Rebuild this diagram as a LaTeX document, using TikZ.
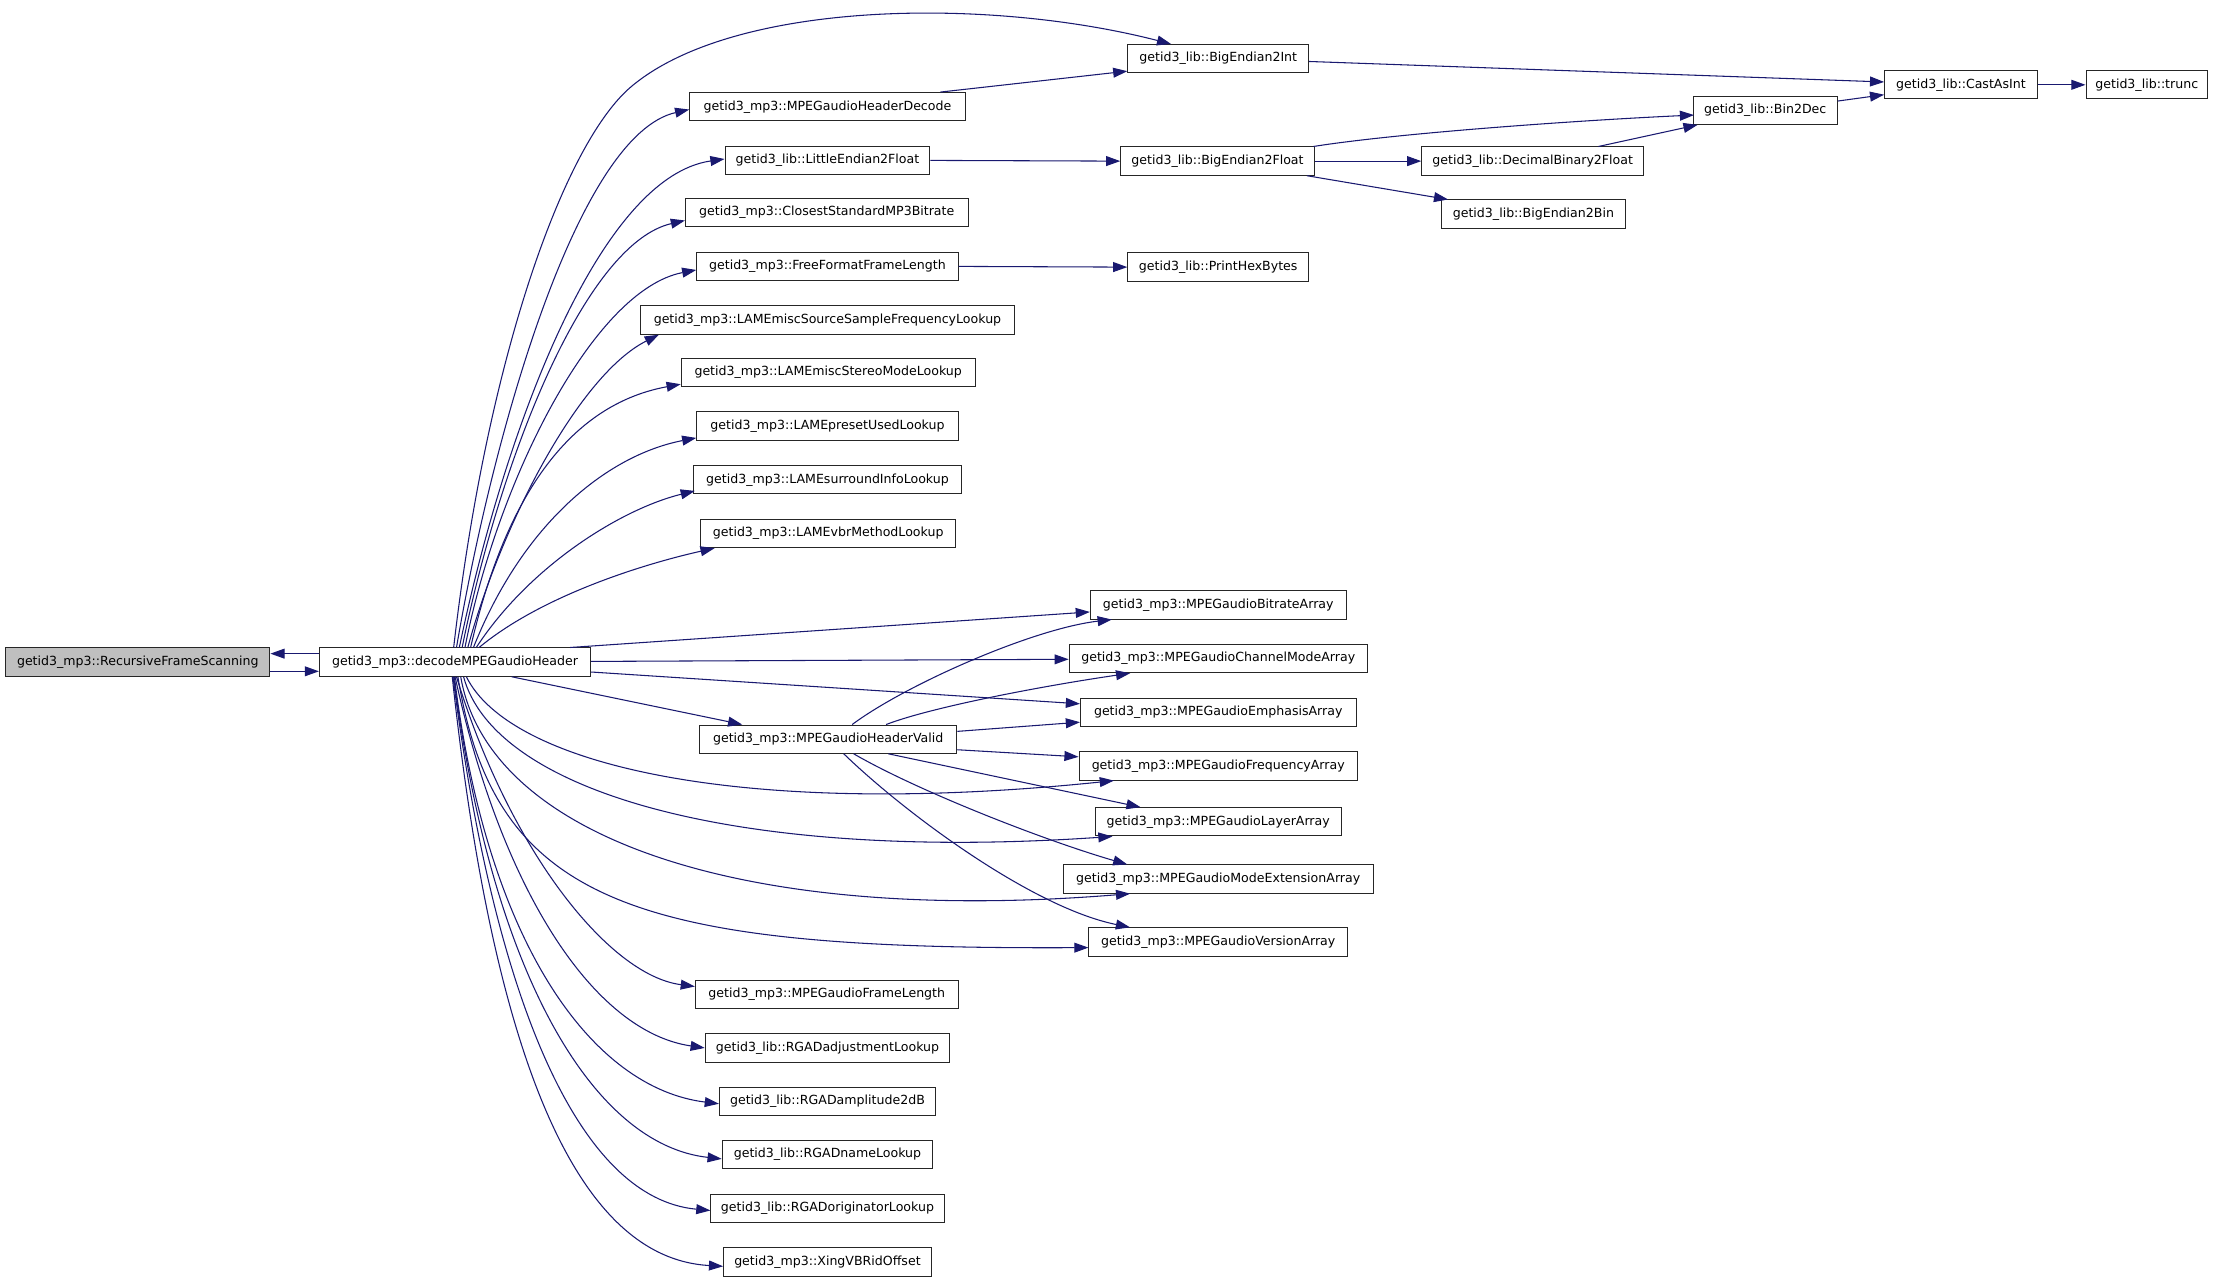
\documentclass[tikz,border=0pt]{standalone}
\usepackage{fontspec}
\setmainfont{DejaVu Sans}
\usetikzlibrary{arrows.meta,calc}
\definecolor{navy}{HTML}{191970}
\definecolor{rootgray}{HTML}{BFBFBF}
\begin{document}
\begin{tikzpicture}[x=1pt,y=-1pt,
  box/.style={draw=black!85, line width=0.7pt, fill=white, inner sep=0pt,
    minimum height=20pt, font=\fontsize{8.9}{10}\selectfont, text=black},
  conn/.style={draw=navy, line width=0.75pt, -{Triangle[length=10pt,width=7pt]}, fill=none}]
\fill[white] (0,0) rectangle (1568,908);
\useasboundingbox (0,0) rectangle (1568,908);

% nodes
\node[box, fill=rootgray, minimum width=187pt] (rfs) at (97.5,468.5) {getid3\_mp3::RecursiveFrameScanning};
\node[box, minimum width=192pt] (dec) at (322,468.5) {getid3\_mp3::decodeMPEGaudioHeader};

\node[box, minimum width=195pt] (hdec) at (585.5,75.5) {getid3\_mp3::MPEGaudioHeaderDecode};
\node[box, minimum width=145pt] (le2f) at (585.5,113.5) {getid3\_lib::LittleEndian2Float};
\node[box, minimum width=200pt] (csb) at (585,150.5) {getid3\_mp3::ClosestStandardMP3Bitrate};
\node[box, minimum width=185pt] (fffl) at (585.5,188.5) {getid3\_mp3::FreeFormatFrameLength};
\node[box, minimum width=265pt] (lsrc) at (585.5,226.5) {getid3\_mp3::LAMEmiscSourceSampleFrequencyLookup};
\node[box, minimum width=208pt] (lstr) at (586,263.5) {getid3\_mp3::LAMEmiscStereoModeLookup};
\node[box, minimum width=185pt] (lpre) at (585.5,301.5) {getid3\_mp3::LAMEpresetUsedLookup};
\node[box, minimum width=189pt] (lsur) at (585.5,339.5) {getid3\_mp3::LAMEsurroundInfoLookup};
\node[box, minimum width=180pt] (lvbr) at (586,377.5) {getid3\_mp3::LAMEvbrMethodLookup};
\node[box, minimum width=182pt] (hval) at (586,523) {getid3\_mp3::MPEGaudioHeaderValid};
\node[box, minimum width=186pt] (mfl) at (585,703.5) {getid3\_mp3::MPEGaudioFrameLength};
\node[box, minimum width=173pt] (radj) at (585.5,741.5) {getid3\_lib::RGADadjustmentLookup};
\node[box, minimum width=153pt] (ramp) at (585.5,779.5) {getid3\_lib::RGADamplitude2dB};
\node[box, minimum width=149pt] (rnam) at (585.5,817) {getid3\_lib::RGADnameLookup};
\node[box, minimum width=165pt] (rori) at (585.5,855) {getid3\_lib::RGADoriginatorLookup};
\node[box, minimum width=147pt] (xing) at (585.5,893) {getid3\_mp3::XingVBRidOffset};

\node[box, minimum width=128pt] (be2i) at (862,41.5) {getid3\_lib::BigEndian2Int};
\node[box, minimum width=137pt] (be2f) at (861.5,114) {getid3\_lib::BigEndian2Float};
\node[box, minimum width=128pt] (phb) at (862,189) {getid3\_lib::PrintHexBytes};
\node[box, minimum width=181pt] (bra) at (862,428) {getid3\_mp3::MPEGaudioBitrateArray};
\node[box, minimum width=211pt] (cma) at (862,466) {getid3\_mp3::MPEGaudioChannelModeArray};
\node[box, minimum width=195pt] (ema) at (862,504) {getid3\_mp3::MPEGaudioEmphasisArray};
\node[box, minimum width=197pt] (fra) at (862,542) {getid3\_mp3::MPEGaudioFrequencyArray};
\node[box, minimum width=174pt] (lya) at (862,581.5) {getid3\_mp3::MPEGaudioLayerArray};
\node[box, minimum width=219pt] (mea) at (862,622) {getid3\_mp3::MPEGaudioModeExtensionArray};
\node[box, minimum width=183pt] (mva) at (862,666.5) {getid3\_mp3::MPEGaudioVersionArray};

\node[box, minimum width=157pt] (db2f) at (1084.5,114) {getid3\_lib::DecimalBinary2Float};
\node[box, minimum width=130pt] (be2b) at (1085,151.5) {getid3\_lib::BigEndian2Bin};
\node[box, minimum width=102pt] (b2d) at (1249,78) {getid3\_lib::Bin2Dec};
\node[box, minimum width=108pt] (cai) at (1387.5,60) {getid3\_lib::CastAsInt};
\node[box, minimum width=86pt] (trn) at (1519,60) {getid3\_lib::trunc};

% root <-> decode
\draw[conn] ($(dec.west)+(0,-6)$) -- ($(rfs.east)+(0,-6)$);
\draw[conn] ($(rfs.east)+(0,6.5)$) -- ($(dec.west)+(0,6.5)$);

% upper fan
\draw[conn] ($(dec.north)+(-1,0)$) .. controls (345,250) and (400,100) .. (447,61)
  .. controls (520,0) and (700,-2) .. ($(be2i.north west)+(31,0)$);
\draw[conn] ($(dec.north)+(1,0)$) .. controls (350,300) and (410,95) .. ($(hdec.west)+(0,2)$);
\draw[conn] ($(dec.north)+(3,0)$) .. controls (358,300) and (425,125) .. ($(le2f.west)+(0,-1)$);
\draw[conn] ($(dec.north)+(5,0)$) .. controls (355,320) and (415,172) .. ($(csb.west)+(0,5.5)$);
\draw[conn] ($(dec.north)+(7,0)$) .. controls (352,340) and (420,205) .. ($(fffl.west)+(0,2.5)$);
\draw[conn] ($(dec.north)+(9,0)$) .. controls (355,370) and (410,265) .. ($(lsrc.south west)+(13.5,0)$);
\draw[conn] ($(dec.north)+(11,0)$) .. controls (360,340) and (410,285) .. ($(lstr.south west)+(0,-2)$);
\draw[conn] ($(dec.north)+(13,0)$) .. controls (370,370) and (430,322) .. ($(lpre.south west)+(0,-2)$);
\draw[conn] ($(dec.north)+(15,0)$) .. controls (375,400) and (440,360) .. ($(lsur.south west)+(1,-2.5)$);
\draw[conn] ($(dec.north)+(17,0)$) .. controls (385,420) and (460,398) .. ($(lvbr.south west)+(10,0)$);

% decode to arrays
\draw[conn] ($(dec.north east)+(-15,0)$) -- ($(bra.west)+(0,5)$);
\draw[conn] ($(dec.east)+(0,-0.5)$) -- ($(cma.west)+(0,0.5)$);
\draw[conn] ($(dec.east)+(0,7)$) -- ($(ema.west)+(0,-6)$);
\draw[conn] ($(dec.south)+(40,0)$) -- ($(hval.north west)+(30.5,0)$);
\draw[conn] ($(dec.south)+(8,0)$) .. controls (360,540) and (520,580) .. ($(fra.south west)+(25,0)$);
\draw[conn] ($(dec.south)+(6,0)$) .. controls (350,560) and (520,610) .. ($(lya.south west)+(12.5,0)$);
\draw[conn] ($(dec.south)+(4,0)$) .. controls (345,590) and (520,655) .. ($(mea.south west)+(47.5,0)$);
\draw[conn] ($(dec.south)+(2,0)$) .. controls (350,640) and (450,672) .. ($(mva.west)+(0,4)$);

% lower fan
\draw[conn] ($(dec.south)+(1,0)$) .. controls (360,600) and (430,690) .. ($(mfl.west)+(0,-5.5)$);
\draw[conn] ($(dec.south)+(0,0)$) .. controls (355,630) and (420,730) .. (radj.west);
\draw[conn] ($(dec.south)+(-0.5,0)$) .. controls (345,670) and (420,770) .. ($(ramp.west)+(0,1.5)$);
\draw[conn] ($(dec.south)+(-1,0)$) .. controls (348,690) and (420,810) .. ($(rnam.west)+(0,3)$);
\draw[conn] ($(dec.south)+(-1.5,0)$) .. controls (350,710) and (410,848) .. ($(rori.west)+(0,1.5)$);
\draw[conn] ($(dec.south)+(-2,0)$) .. controls (348,740) and (405,890) .. ($(xing.west)+(0,3)$);

% header valid outgoing
\draw[conn] ($(hval.north)+(17,0)$) .. controls (640,485) and (730,445) .. ($(bra.south west)+(15.5,0)$);
\draw[conn] ($(hval.north)+(41,0)$) .. controls (660,500) and (740,485) .. ($(cma.south west)+(43.5,0)$);
\draw[conn] ($(hval.east)+(0,-5.5)$) -- ($(ema.west)+(0,7)$);
\draw[conn] ($(hval.east)+(0,7.5)$) -- ($(fra.west)+(0,-6.5)$);
\draw[conn] ($(hval.south)+(42.5,0)$) -- ($(lya.north west)+(32.4,0)$);
\draw[conn] ($(hval.south)+(18,0)$) .. controls (650,560) and (740,595) .. ($(mea.north west)+(45.5,0)$);
\draw[conn] ($(hval.south)+(11,0)$) .. controls (640,575) and (730,642) .. ($(mva.north west)+(29.4,0)$);

% column 2 -> column 3
\draw[conn] ($(hdec.north east)+(-18,0)$) -- ($(be2i.south west)+(0,-1.5)$);
\draw[conn] (le2f.east) -- (be2f.west);
\draw[conn] (fffl.east) -- (phb.west);

% right part
\draw[conn] ($(be2i.east)+(0,2)$) -- ($(cai.west)+(0,-2)$);
\draw[conn] ($(be2f.north east)+(-1,0)$) .. controls (990,94) and (1120,85) .. ($(b2d.west)+(1,3.4)$);
\draw[conn] (be2f.east) -- (db2f.west);
\draw[conn] ($(be2f.south east)+(-5.5,0)$) -- ($(be2b.north west)+(5,0)$);
\draw[conn] ($(db2f.north)+(46.5,0)$) -- ($(b2d.south west)+(3.5,0)$);
\draw[conn] ($(b2d.east)+(0,-6.5)$) -- ($(cai.west)+(0,7)$);
\draw[conn] (cai.east) -- (trn.west);
\end{tikzpicture}
\end{document}
